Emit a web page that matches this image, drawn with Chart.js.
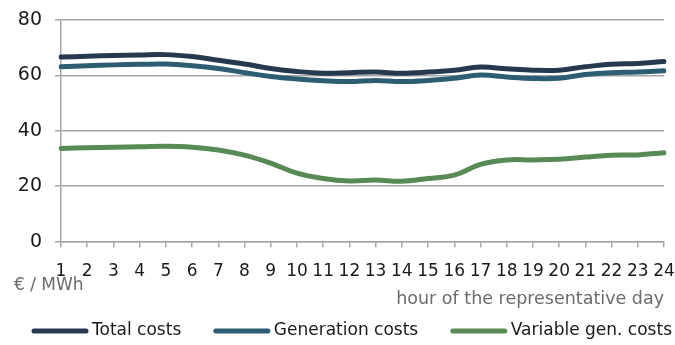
<!DOCTYPE html>
<html lang="en">
<head>
<meta charset="UTF-8">
<title>Costs per hour of the representative day</title>
<script src="https://cdn.jsdelivr.net/npm/chart.js@4"></script>
<style>
  html, body { margin: 0; padding: 0; background: #fff; }
  #chart { display: block; }
</style>
</head>
<body>
<canvas id="chart" width="675" height="345"></canvas>
<script>
// data, €/MWh per hour
const hours = ['1','2','3','4','5','6','7','8','9','10','11','12','13','14','15','16','17','18','19','20','21','22','23','24'];
const totalCosts = [66.6, 66.9, 67.2, 67.4, 67.5, 66.8, 65.5, 64.1, 62.5, 61.4, 60.8, 61.0, 61.2, 60.8, 61.2, 61.9, 63.0, 62.4, 61.9, 61.9, 63.1, 64.0, 64.3, 65.0];
const generationCosts = [63.1, 63.5, 63.8, 64.0, 64.1, 63.5, 62.5, 61.0, 59.6, 58.7, 58.1, 57.8, 58.2, 57.8, 58.2, 59.0, 60.1, 59.4, 58.9, 59.0, 60.3, 61.0, 61.2, 61.7];
const variableGenCosts = [33.6, 33.9, 34.1, 34.2, 34.4, 34.1, 33.1, 31.2, 28.3, 24.7, 22.8, 21.9, 22.2, 21.8, 22.8, 24.0, 27.9, 29.5, 29.5, 29.7, 30.5, 31.2, 31.3, 32.1];
const yTicks = [0, 20, 40, 60, 80];

const FONT = "'DejaVu Sans', sans-serif";
const gridGrey = '#a6a6a6';

// legend + y unit are drawn by hand to match the original placement
const extraText = {
  id: 'extraText',
  afterDraw(chart) {
    const ctx = chart.ctx;
    ctx.save();
    ctx.font = '17px ' + FONT;
    ctx.textBaseline = 'middle';
    ctx.fillStyle = '#6b6b6b';
    ctx.fillText('€ / MWh', 14, 286);

    // legend row
    const lineLen = 56, y = 331;
    ctx.fillStyle = '#1a1a1a';
    const items = chart.data.datasets.map(ds => ({
      ds, w: lineLen + 4 + ctx.measureText(ds.label).width
    }));
    const used = items.reduce((s, it) => s + it.w, 0);
    const gap = (640 - used) / (items.length - 1);
    let x = 32;
    items.forEach(it => {
      ctx.strokeStyle = it.ds.borderColor;
      ctx.lineWidth = 5;
      ctx.lineCap = 'round';
      ctx.beginPath();
      ctx.moveTo(x + 2, y);
      ctx.lineTo(x + lineLen - 2, y);
      ctx.stroke();
      ctx.fillText(it.ds.label, x + lineLen + 4, y);
      x += it.w + gap;
    });
    ctx.restore();
  }
};

const lineStyle = {
  borderWidth: 5,
  pointRadius: 0,
  tension: 0.4,
  borderCapStyle: 'round',
  borderJoinStyle: 'round',
  fill: false
};

new Chart(document.getElementById('chart'), {
  type: 'line',
  data: {
    labels: hours,
    datasets: [
      { label: 'Total costs', data: totalCosts, borderColor: '#253a4e', ...lineStyle },
      { label: 'Generation costs', data: generationCosts, borderColor: '#2c5d73', ...lineStyle },
      { label: 'Variable gen. costs', data: variableGenCosts, borderColor: '#588a55', ...lineStyle }
    ]
  },
  options: {
    responsive: false,
    animation: false,
    layout: { padding: { top: 20, left: 0, right: 4, bottom: 35 } },
    plugins: {
      legend: { display: false },
      tooltip: { enabled: false }
    },
    scales: {
      x: {
        offset: false,
        afterFit: s => { s.paddingRight = 11; },
        grid: { drawOnChartArea: false, drawTicks: true, tickLength: 6, color: gridGrey, lineWidth: 1.5 },
        border: { color: gridGrey, width: 1.5 },
        ticks: {
          autoSkip: false, maxRotation: 0, minRotation: 0, padding: 14,
          color: '#1a1a1a', font: { family: FONT, size: 17 }
        },
        title: {
          display: true,
          text: 'hour of the representative day',
          align: 'end',
          color: '#6b6b6b',
          font: { family: FONT, size: 17.5 },
          padding: { top: -7, bottom: 0 }
        }
      },
      y: {
        min: 0,
        max: 80,
        afterBuildTicks: s => { s.ticks = yTicks.map(v => ({ value: v })); },
        afterFit: s => { s.width = 61; s.paddingTop = 0; s.paddingBottom = 0; },
        grid: { color: gridGrey, lineWidth: 1.5, tickLength: 6 },
        border: { color: gridGrey, width: 1.5 },
        ticks: { padding: 13, color: '#1a1a1a', font: { family: FONT, size: 19 } }
      }
    }
  },
  plugins: [extraText]
});
</script>
</body>
</html>
